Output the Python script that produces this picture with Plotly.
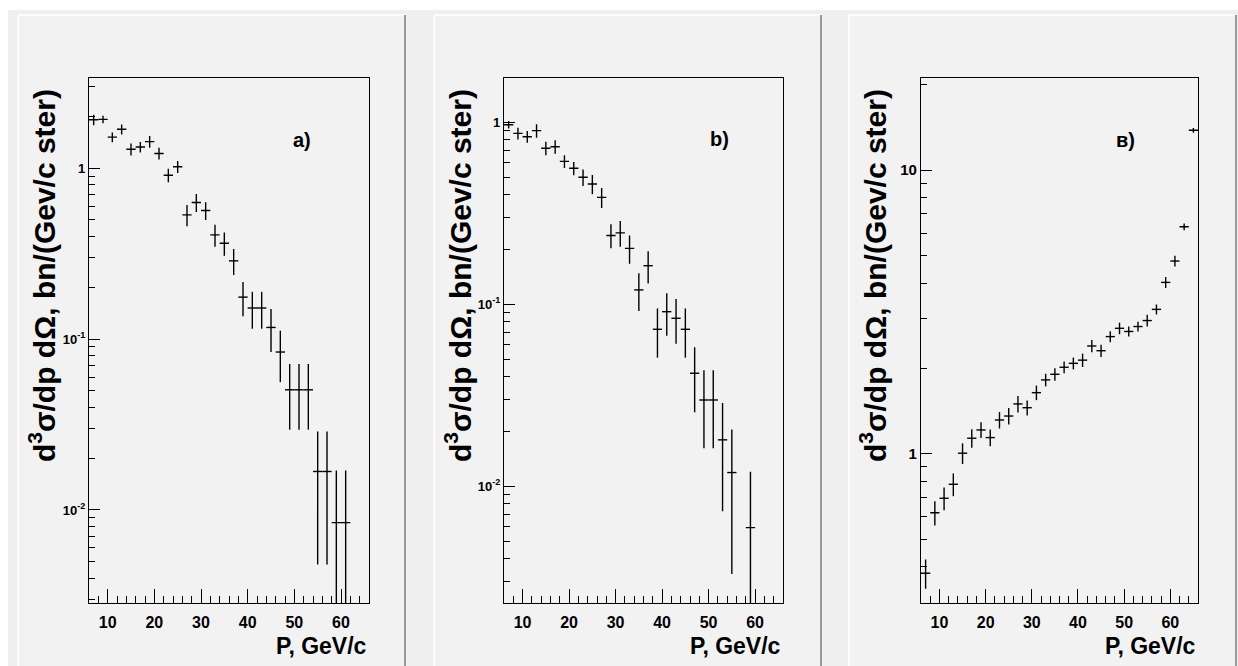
import plotly.graph_objects as go

# ---------------- data ----------------
P_a = [7, 9, 11, 13, 15, 17, 19, 21, 23, 25, 27, 29, 31, 33, 35, 37, 39, 41, 43, 45,
       47, 49, 51, 53, 55, 57, 59, 61]
Y_a = [1.92, 1.93, 1.52, 1.69, 1.29, 1.33, 1.43, 1.22, 0.91, 1.02, 0.533, 0.63, 0.565,
       0.407, 0.364, 0.287, 0.176, 0.152, 0.152, 0.117, 0.084, 0.0505, 0.0505, 0.0505,
       0.0168, 0.0168, 0.00844, 0.00844]
E_a = [0.137, 0.096, 0.10, 0.113, 0.104, 0.095, 0.112, 0.095, 0.082, 0.083, 0.075, 0.076,
       0.068, 0.06, 0.057, 0.05, 0.04, 0.037, 0.037, 0.033, 0.028, 0.021, 0.021, 0.021,
       0.012, 0.012, 0.0086, 0.0086]

P_b = [7, 9, 11, 13, 15, 17, 19, 21, 23, 25, 27, 29, 31, 33, 35, 37, 39, 41, 43, 45,
       47, 49, 51, 53, 55, 59]
Y_b = [0.97, 0.87, 0.834, 0.90, 0.72, 0.734, 0.61, 0.559, 0.499, 0.458, 0.387, 0.239,
       0.247, 0.203, 0.12, 0.163, 0.0729, 0.0911, 0.0838, 0.0729, 0.0418, 0.0298, 0.0298,
       0.018, 0.0119, 0.00593]
E_b = [0.046, 0.064, 0.061, 0.076, 0.061, 0.062, 0.049, 0.047, 0.052, 0.055, 0.049, 0.036,
       0.040, 0.036, 0.028, 0.033, 0.022, 0.024, 0.023, 0.022, 0.0163, 0.0136, 0.0136,
       0.0107, 0.0086, 0.0061]

P_c = [7, 9, 11, 13, 15, 17, 19, 21, 23, 25, 27, 29, 31, 33, 35, 37, 39, 41, 43, 45,
       47, 49, 51, 53, 55, 57, 59, 61, 63, 65]
Y_c = [0.38, 0.621, 0.698, 0.782, 1.006, 1.136, 1.215, 1.142, 1.317, 1.36,
       1.50, 1.455, 1.644, 1.823, 1.908, 2.02, 2.085, 2.14, 2.40, 2.31,
       2.59, 2.77, 2.70, 2.81, 2.95, 3.23, 4.02, 4.78, 6.31, 13.8]
E_c = [0.045, 0.061, 0.064, 0.072, 0.084, 0.085, 0.077, 0.077, 0.088, 0.091,
       0.10, 0.088, 0.097, 0.093, 0.096, 0.095, 0.10, 0.116, 0.12, 0.116,
       0.115, 0.13, 0.11, 0.11, 0.14, 0.13, 0.18, 0.21, 0.17, 0.26]

BIN_HALF = 1.0
X_TICKS = [10, 20, 30, 40, 50, 60]
X_TITLE = "P, GeV/c"
Y_TITLE = "d<sup>3</sup>σ/dp dΩ, bn/(Gev/c ster)"
PANEL_LABELS = ["a)", "b)", "в)"]

Y_TICKS_AB = [0.01, 0.1, 1]
Y_TICKTEXT_AB = ["10<sup>-2</sup>", "10<sup>-1</sup>", "1"]
Y_TICKS_C = [1, 10]
Y_TICKTEXT_C = ["1", "10"]

# ---------------- layout helpers ----------------
W, H = 1238, 666
FONT = "Liberation Sans, Arial, sans-serif"


def px(x):
    return x / W


def py(y):
    return 1 - y / H


def minor_vals(lo_exp, hi_exp, lo, hi):
    vals = []
    for e in range(lo_exp, hi_exp + 1):
        for m in range(2, 10):
            v = m * 10 ** e
            if lo <= v <= hi:
                vals.append(v)
    return vals


panels = [
    dict(P=P_a, Y=Y_a, E=E_a, xdom=(89, 369), yr=(-2.546, 0.526), yfs=13,
         tv=Y_TICKS_AB, tt=Y_TICKTEXT_AB, left=18, right=405, label_xy=(302, 140)),
    dict(P=P_b, Y=Y_b, E=E_b, xdom=(504, 783), yr=(-2.643, 0.242), yfs=13,
         tv=Y_TICKS_AB, tt=Y_TICKTEXT_AB, left=434, right=821, label_xy=(719, 139)),
    dict(P=P_c, Y=Y_c, E=E_c, xdom=(921, 1198), yr=(-0.526, 1.323), yfs=15,
         tv=Y_TICKS_C, tt=Y_TICKTEXT_C, left=849, right=1236, label_xy=(1125, 140)),
]

fig = go.Figure()
shapes = [dict(type="rect", xref="paper", yref="paper", x0=px(8), x1=1, y0=0, y1=py(10),
               fillcolor="#efefef", line=dict(width=0), layer="below")]
annotations = []
ydom = [py(603.3), py(78.3)]

for i, p in enumerate(panels):
    n = "" if i == 0 else str(i + 1)
    fig.add_trace(go.Scatter(
        x=p["P"], y=p["Y"], mode="markers",
        marker=dict(size=1, color="black"),
        error_x=dict(type="constant", value=BIN_HALF, width=0, thickness=1.4, color="black"),
        error_y=dict(type="data", array=p["E"], width=0, thickness=1.4, color="black"),
        xaxis="x" + n, yaxis="y" + n, cliponaxis=True, hoverinfo="x+y"))

    lo, hi = 10 ** p["yr"][0], 10 ** p["yr"][1]
    fig.update_layout(**{
        "xaxis" + n: dict(
            domain=[px(p["xdom"][0]), px(p["xdom"][1])], range=[6, 66],
            anchor="y" + n, showgrid=False, zeroline=False,
            showline=True, mirror=True, linecolor="black", linewidth=1.2,
            ticks="inside", ticklen=14, tickwidth=1, tickcolor="black",
            tickvals=X_TICKS, ticktext=[str(v) for v in X_TICKS],
            tickfont=dict(family=FONT, size=16, color="black", weight="bold"),
            ticklabelstandoff=4,
            minor=dict(ticks="inside", ticklen=7, tickwidth=1, tickcolor="black",
                       dtick=2, tick0=0, showgrid=False),
        ),
        "yaxis" + n: dict(
            domain=ydom, type="log", range=list(p["yr"]),
            anchor="x" + n, showgrid=False, zeroline=False,
            showline=True, mirror=True, linecolor="black", linewidth=1.2,
            ticks="inside", ticklen=11, tickwidth=1, tickcolor="black",
            tickvals=p["tv"], ticktext=p["tt"],
            tickfont=dict(family=FONT, size=p["yfs"], color="black", weight="bold"),
            minor=dict(ticks="inside", ticklen=5.5, tickwidth=1, tickcolor="black",
                       tickvals=minor_vals(-3, 1, lo, hi), showgrid=False),
        ),
    })

    L, R = p["left"], p["right"]
    shapes += [
        dict(type="rect", xref="paper", yref="paper", x0=px(L), x1=px(R), y0=0, y1=py(15),
             fillcolor="#f2f2f2", line=dict(width=0), layer="below"),
        dict(type="line", xref="paper", yref="paper", x0=px(L), x1=px(L), y0=0, y1=py(15),
             line=dict(color="white", width=1.5), layer="below"),
        dict(type="line", xref="paper", yref="paper", x0=px(L), x1=px(R), y0=py(15), y1=py(15),
             line=dict(color="white", width=1.5), layer="below"),
        dict(type="line", xref="paper", yref="paper", x0=px(R), x1=px(R), y0=0, y1=py(15),
             line=dict(color="#9a9a9a", width=2), layer="below"),
    ]

    off = L - 18
    annotations += [
        dict(text=Y_TITLE, xref="paper", yref="paper", x=px(42 + off), y=py(276),
             xanchor="center", yanchor="middle", textangle=-90, showarrow=False,
             font=dict(family=FONT, size=30, color="black", weight="bold")),
        dict(text=X_TITLE, xref="paper", yref="paper", x=px(p["xdom"][1]), y=py(646),
             xanchor="right", yanchor="middle", showarrow=False,
             font=dict(family=FONT, size=23, color="black", weight="bold")),
        dict(text=PANEL_LABELS[i], xref="paper", yref="paper",
             x=px(p["label_xy"][0]), y=py(p["label_xy"][1]),
             xanchor="center", yanchor="middle", showarrow=False,
             font=dict(family=FONT, size=20, color="black", weight="bold")),
    ]

fig.update_layout(
    width=W, height=H, margin=dict(l=0, r=0, t=0, b=0),
    paper_bgcolor="white", plot_bgcolor="rgba(0,0,0,0)",
    showlegend=False, shapes=shapes, annotations=annotations,
)

fig.write_html("out.html")
